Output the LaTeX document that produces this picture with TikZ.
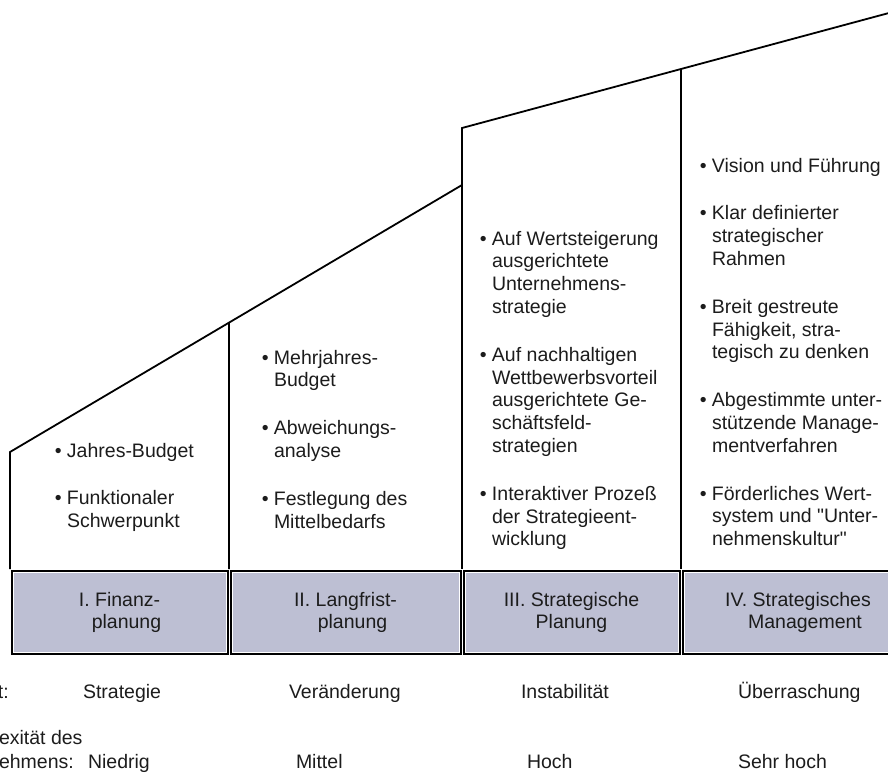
\documentclass[tikz,border=0pt]{standalone}
\usepackage{fontspec}
\setmainfont{Liberation Sans}
\usetikzlibrary{calc}

\definecolor{phasegray}{RGB}{189,191,211}
\definecolor{inkgray}{RGB}{28,28,28}

% bullet hanging in front of an item
\newcommand{\itm}{\llap{\textbullet\ }}
% plain straight double quote
\newcommand{\sq}{\XeTeXglyph\XeTeXcharglyph"22\relax}

\begin{document}
\begin{tikzpicture}[x=1pt, y=-1pt,
    every node/.style={inner sep=0pt, outer sep=0pt, text=inkgray, font=\fontsize{19.5}{22.8}\selectfont},
    outline/.style={line width=1.8pt, line join=miter},
    phasebox/.style={fill=phasegray, draw=white, line width=0.8pt, minimum height=80pt, align=center,
      font=\fontsize{19.5}{22}\selectfont, preaction={draw=black, line width=5pt}},
    itemlist/.style={anchor=north west, align=left}]

      \useasboundingbox (0,0) rectangle (888,772);
      \clip (0,0) rectangle (888,772);

      % Corners of the rising roof line
      \coordinate (a1) at (10,452);
      \coordinate (a2) at (462,185);
      \coordinate (b1) at (462,128);
      \coordinate (b2) at (900,10);

      % Outline of the staircase
      \draw[outline] (10,569) -- (a1) -- (a2) -- (b1) -- (b2);

      % Dividers between the stages
      \draw[outline] (229,569) -- ($(a1)!{(229-10)/(462-10)}!(a2)$);
      \draw[outline] (462,569) -- (a2);
      \draw[outline] (681,569) -- ($(b1)!{(681-462)/(900-462)}!(b2)$);

      % Stage boxes
      \node[phasebox, minimum width=213pt] (stage1) at (119.5,612) {I. Finanz-\\\hspace*{14pt}planung};
      \node[phasebox, minimum width=227pt] (stage2) at (345.5,612) {II. Langfrist-\\\hspace*{14pt}planung};
      \node[phasebox, minimum width=213pt] (stage3) at (571.5,612) {III. Strategische\\Planung};
      \node[phasebox, minimum width=228pt] (stage4) at (798,612) {IV. Strategisches\\\hspace*{14pt}Management};

      % Features of each stage
      \node[itemlist] (list1) at (67,443)
        {\itm Jahres-Budget\\[25pt]\itm Funktionaler\\Schwerpunkt};
      \node[itemlist] (list2) at (274,350)
        {\itm Mehrjahres-\\Budget\\[25pt]\itm Abweichungs-\\analyse\\[25pt]\itm Festlegung des\\Mittelbedarfs};
      \node[itemlist] (list3) at (492,231)
        {\itm Auf Wertsteigerung\\ausgerichtete\\Unternehmens-\\strategie\\[25pt]%
         \itm Auf nachhaltigen\\Wettbewerbsvorteil\\ausgerichtete Ge-\\schäftsfeld-\\strategien\\[25pt]%
         \itm Interaktiver Prozeß\\der Strategieent-\\wicklung};
      \node[itemlist] (list4) at (712,158)
        {\itm Vision und Führung\\[25pt]\itm Klar definierter\\strategischer\\Rahmen\\[25pt]%
         \itm Breit gestreute\\Fähigkeit, stra-\\tegisch zu denken\\[25pt]%
         \itm Abgestimmte unter-\\stützende Manage-\\mentverfahren\\[25pt]%
         \itm Förderliches Wert-\\system und \sq Unter-\\nehmenskultur\sq};

      % Row labels below the boxes
      \node[anchor=base west] (causehead) at (-2,698) {t:};
      \node[anchor=base west] (complexhead) at (-1,744) {exität des};
      \node[anchor=base west] (complexhead2) at (-1,768) {ehmens:};

      \foreach \x/\txt [count=\i] in {83/Strategie, 289/Veränderung, 521/Instabilität, 738/Überraschung}
        \node[anchor=base west] (cause\i) at (\x,698) {\txt};

      \foreach \x/\txt [count=\i] in {88/Niedrig, 296/Mittel, 527/Hoch, 738/Sehr hoch}
        \node[anchor=base west] (complex\i) at (\x,768) {\txt};

    \end{tikzpicture}
\end{document}
